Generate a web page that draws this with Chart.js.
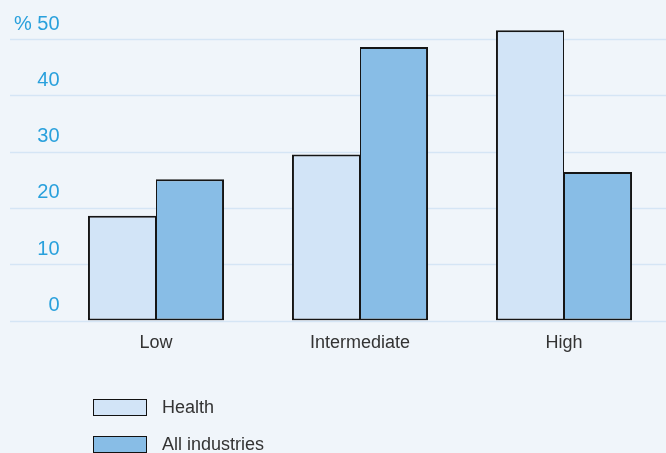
<!DOCTYPE html>
<html>
<head>
<meta charset="utf-8">
<script src="https://cdn.jsdelivr.net/npm/chart.js@4/dist/chart.umd.min.js"></script>
<style>
  html, body { margin: 0; padding: 0; background: #f0f5fa; }
  #wrap { position: relative; width: 666px; height: 453px; overflow: hidden; }
  canvas { position: absolute; left: 0; top: 0; }
  .lg { position: absolute; left: 93px; font: 18px "Liberation Sans", Arial, sans-serif; color: #333; }
  .lg .box { position: absolute; left: 0; top: 0; width: 52px; height: 15px; border: 1.5px solid #111; }
  .lg .txt { position: absolute; left: 69px; top: -2px; white-space: nowrap; }
</style>
</head>
<body>
<div id="wrap">
  <canvas id="c" width="666" height="453"></canvas>
  <div id="legend"></div>
</div>
<script>
const categories = ["Low", "Intermediate", "High"];
const seriesNames = ["Health", "All industries"];
const health = [18.6, 29.5, 51.6];
const allIndustries = [25.1, 48.6, 26.4];
const yTicks = [0, 10, 20, 30, 40, 50];

const colors = ["#d2e4f7", "#88bde6"];
const gridColor = "#d5e5f5";
const tickBlue = "#29a0dc";

// Horizontal gridlines running full width, with value labels sitting above each line
const gridAndLabels = {
  id: "gridAndLabels",
  beforeDatasetsDraw(chart) {
    const ctx = chart.ctx;
    const y = chart.scales.y;
    ctx.save();
    ctx.strokeStyle = gridColor;
    ctx.lineWidth = 1.5;
    yTicks.forEach(v => {
      const py = Math.round(y.getPixelForValue(v)) + 0.5;
      ctx.beginPath();
      ctx.moveTo(10, py);
      ctx.lineTo(chart.width, py);
      ctx.stroke();
    });
    ctx.fillStyle = tickBlue;
    ctx.font = '20px "Liberation Sans", Arial, sans-serif';
    ctx.textAlign = "right";
    ctx.textBaseline = "middle";
    yTicks.forEach((v, i) => {
      const py = y.getPixelForValue(v) - 15;
      const label = i === yTicks.length - 1 ? "% " + v : String(v);
      ctx.fillText(label, 59.5, py);
    });
    ctx.restore();
  }
};

const chart = new Chart(document.getElementById("c"), {
  type: "bar",
  data: {
    labels: categories,
    datasets: [
      { label: seriesNames[0], data: health, backgroundColor: colors[0], borderColor: "#151515",
        borderWidth: { top: 2, left: 2, right: 1, bottom: 2 } },
      { label: seriesNames[1], data: allIndustries, backgroundColor: colors[1], borderColor: "#151515",
        borderWidth: { top: 2, left: 1, right: 2, bottom: 2 } }
    ]
  },
  options: {
    responsive: false,
    animation: false,
    events: [],
    layout: { padding: { left: 54, right: 0, top: 20, bottom: 92.5 } },
    plugins: { legend: { display: false }, tooltip: { enabled: false } },
    datasets: { bar: { barPercentage: 1, categoryPercentage: 0.667, borderSkipped: false } },
    scales: {
      x: {
        grid: { display: false, drawTicks: false },
        border: { display: false },
        ticks: { color: "#333", font: { family: '"Liberation Sans", Arial, sans-serif', size: 18 }, padding: 12 },
        afterFit(scale) { scale.height = 40; }
      },
      y: {
        display: false,
        min: 0,
        max: 53.4
      }
    }
  },
  plugins: [gridAndLabels]
});

// Legend stacked vertically under the plot
const legend = document.getElementById("legend");
chart.data.datasets.forEach((ds, i) => {
  const item = document.createElement("div");
  item.className = "lg";
  item.style.top = (399 + i * 37) + "px";
  item.innerHTML = '<div class="box" style="background:' + ds.backgroundColor + '"></div><div class="txt"></div>';
  item.querySelector(".txt").textContent = ds.label;
  legend.appendChild(item);
});
</script>
</body>
</html>
